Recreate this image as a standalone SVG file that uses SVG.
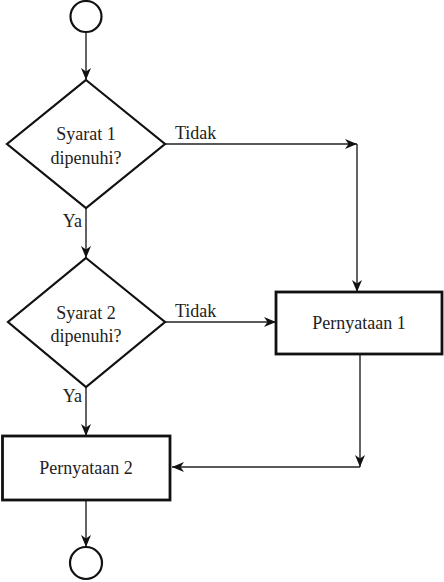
<svg xmlns="http://www.w3.org/2000/svg" width="444" height="582" viewBox="0 0 444 582">
<style>
.shape{fill:#fff;stroke:#111;stroke-width:2.2}
.box{fill:#fff;stroke:#111;stroke-width:2.8}
.conn{fill:none;stroke:#222;stroke-width:1.4}
text{font-family:"Liberation Serif","Times New Roman",serif;font-size:18px;fill:#222}
.c{text-anchor:middle}
</style>
<defs>
<marker id="arr" markerUnits="userSpaceOnUse" markerWidth="14" markerHeight="12" refX="12" refY="6" orient="auto">
<path d="M0,1 L12,6 L0,11 L3.5,6 Z" fill="#111"/>
</marker>
</defs>
<g id="connectors">
<path class="conn" d="M86,32 V80" marker-end="url(#arr)"/>
<path class="conn" d="M86,208 V258" marker-end="url(#arr)"/>
<path class="conn" d="M165,144 H357" marker-end="url(#arr)"/>
<path class="conn" d="M357,144 V292" marker-end="url(#arr)"/>
<path class="conn" d="M165,322 H276" marker-end="url(#arr)"/>
<path class="conn" d="M86,387 V436" marker-end="url(#arr)"/>
<path class="conn" d="M360,354 V467" marker-end="url(#arr)"/>
<path class="conn" d="M360,467 H172" marker-end="url(#arr)"/>
<path class="conn" d="M86,500 V547" marker-end="url(#arr)"/>
<text x="175" y="139">Tidak</text>
<text x="175" y="317">Tidak</text>
<text x="82" y="227" text-anchor="end">Ya</text>
<text x="82" y="402" text-anchor="end">Ya</text>
</g>
<g id="start"><circle class="shape" cx="86" cy="16.5" r="15.5"/></g>
<g id="cond1">
<polygon class="shape" points="86,80 165,144 86,208 7,144"/>
<text class="c" x="86" y="140">Syarat 1</text>
<text class="c" x="86" y="164">dipenuhi?</text>
</g>
<g id="cond2">
<polygon class="shape" points="86,258 165,322 86,387 8,322"/>
<text class="c" x="86" y="319">Syarat 2</text>
<text class="c" x="86" y="342">dipenuhi?</text>
</g>
<g id="stmt1">
<rect class="box" x="276" y="292" width="166" height="62"/>
<text class="c" x="359" y="329">Pernyataan 1</text>
</g>
<g id="stmt2">
<rect class="box" x="2.5" y="436" width="167.5" height="64"/>
<text class="c" x="86" y="474">Pernyataan 2</text>
</g>
<g id="end"><circle class="shape" cx="86" cy="563" r="16"/></g>
</svg>
